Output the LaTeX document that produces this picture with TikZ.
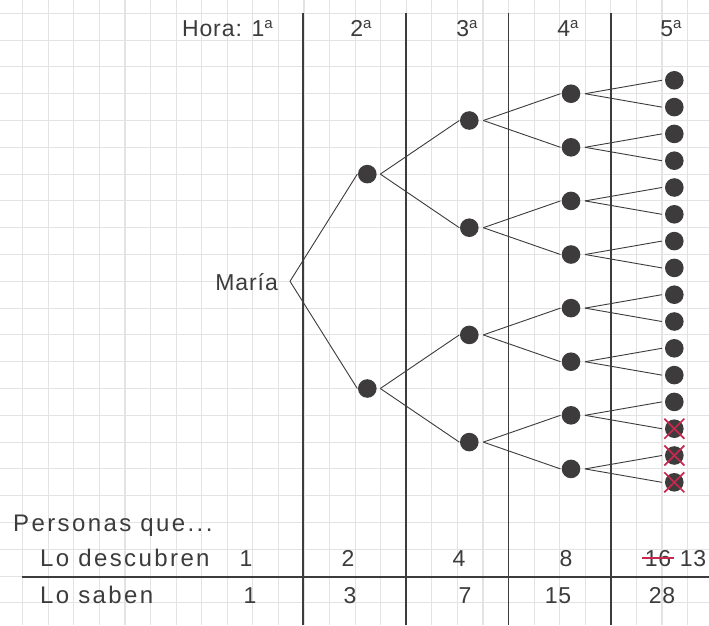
\documentclass[tikz,border=0pt]{standalone}
\usepackage{fontspec}
\setmainfont{Liberation Sans}[LetterSpace=4]
\newfontfamily\widefont{Liberation Sans}[LetterSpace=10]
\definecolor{ink}{HTML}{3D3B3C}
\definecolor{gridc}{HTML}{E3E3E3}
\definecolor{redx}{HTML}{C8284E}
\newcommand\ordA{\raisebox{0.65ex}{\fontsize{15}{15}\selectfont a}}
\begin{document}
\begin{tikzpicture}[x=1pt,y=-1pt,
  gridline/.style={draw=gridc,line width=1.1pt},
  colline/.style={draw=ink,line width=1.5pt},
  dot/.style={circle,fill=ink,inner sep=0pt,minimum size=18.6pt},
  edge/.style={draw=ink,line width=0.9pt},
  lbl/.style={text=ink,font=\fontsize{23}{27}\selectfont,inner sep=0pt},
  wlbl/.style={text=ink,font=\widefont\fontsize{24}{28}\selectfont,inner sep=0pt},
  crossx/.style={draw=redx,line width=1.7pt}]
\fill[white] (0,0) rectangle (709,625);
\useasboundingbox (0,0) rectangle (709,625);
% grid
\foreach \k in {0,...,26} \draw[gridline] ({22.7+25.57*\k},0) -- ({22.7+25.57*\k},625);
\foreach \k in {0,...,22} \draw[gridline] (0,{13.3+26.8*\k}) -- (709,{13.3+26.8*\k});
% column separators and table rule
\foreach \x in {303,406,508.5,611} \draw[colline] (\x,12.7) -- (\x,625);
\draw[colline] (22,577) -- (709,577);
% header
\node[lbl,anchor=base east] (hora) at (273,36.5) {Hora: 1\ordA};
\node[lbl,anchor=base] (h2) at (361,36.5) {2\ordA};
\node[lbl,anchor=base] (h3) at (467,36.5) {3\ordA};
\node[lbl,anchor=base] (h4) at (568,36.5) {4\ordA};
\node[lbl,anchor=base] (h5) at (671,36.5) {5\ordA};
% tree
\node[lbl,anchor=base east] (maria) at (278,290) {María};
\coordinate (root) at (290,281.3);
\foreach \i in {1,2} \node[dot] (a\i) at (367.3,{174.1+214.4*(\i-1)}) {};
\foreach \i in {1,...,4} \node[dot] (b\i) at (469.3,{120.5+107.2*(\i-1)}) {};
\foreach \i in {1,...,8} \node[dot] (c\i) at (571,{93.7+53.6*(\i-1)}) {};
\foreach \i in {1,...,16} \node[dot] (d\i) at (674.3,{80.3+26.8*(\i-1)}) {};
\foreach \i in {1,2} \draw[edge] (root) -- ([xshift=-0.5pt]a\i.west);
\foreach \j in {1,2} {
  \pgfmathtruncatemacro\ka{2*\j-1}\pgfmathtruncatemacro\kb{2*\j}
  \draw[edge] ([xshift=3.5pt]a\j.east) -- ([xshift=-0.5pt]b\ka.west);
  \draw[edge] ([xshift=3.5pt]a\j.east) -- ([xshift=-0.5pt]b\kb.west);
}
\foreach \j in {1,...,4} {
  \pgfmathtruncatemacro\ka{2*\j-1}\pgfmathtruncatemacro\kb{2*\j}
  \draw[edge] ([xshift=4.5pt]b\j.east) -- ([xshift=-1pt]c\ka.west);
  \draw[edge] ([xshift=4.5pt]b\j.east) -- ([xshift=-1pt]c\kb.west);
}
\foreach \j in {1,...,8} {
  \pgfmathtruncatemacro\ka{2*\j-1}\pgfmathtruncatemacro\kb{2*\j}
  \draw[edge] ([xshift=4.5pt]c\j.east) -- ([xshift=-3pt]d\ka.west);
  \draw[edge] ([xshift=4.5pt]c\j.east) -- ([xshift=-3pt]d\kb.west);
}
\foreach \i in {14,15,16} {
  \draw[crossx] ([shift={(-10pt,-10pt)}]d\i.center) -- ([shift={(10pt,10pt)}]d\i.center);
  \draw[crossx] ([shift={(-10pt,10pt)}]d\i.center) -- ([shift={(10pt,-10pt)}]d\i.center);
}
% table
\node[wlbl,anchor=base west] (personas) at (13,531) {Personas que...};
\node[wlbl,anchor=base west] (desc) at (40,566) {Lo descubren};
\node[wlbl,anchor=base west] (saben) at (40,603) {Lo saben};
\node[lbl,anchor=base] (d1n) at (246,566) {1};
\node[lbl,anchor=base] (s1n) at (250,603) {1};
\node[lbl,anchor=base] (d2n) at (348,566) {2};
\node[lbl,anchor=base] (s2n) at (350,603) {3};
\node[lbl,anchor=base] (d3n) at (459,566) {4};
\node[lbl,anchor=base] (s3n) at (465,603) {7};
\node[lbl,anchor=base] (d4n) at (566,566) {8};
\node[lbl,anchor=base] (s4n) at (558,603) {15};
\node[lbl,anchor=base] (d5n) at (658,566) {16};
\node[lbl,anchor=base] (d5m) at (693,566) {13};
\node[lbl,anchor=base] (s5n) at (662,603) {28};
\draw[draw=redx,line width=1.5pt] ([xshift=-3pt]d5n.west) -- ([xshift=3pt]d5n.east);
\end{tikzpicture}
\end{document}
